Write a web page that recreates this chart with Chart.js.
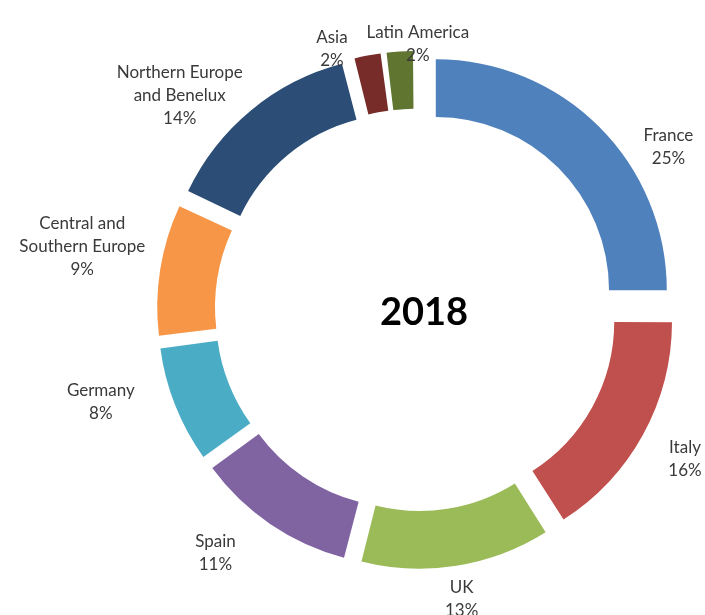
<!DOCTYPE html>
<html>
<head>
<meta charset="utf-8">
<title>2018</title>
<script src="https://cdn.jsdelivr.net/npm/chart.js@4/dist/chart.umd.min.js"></script>
<style>
    body { margin: 0; background: #fff; }
    #wrap { width: 705px; height: 615px; position: relative; }
</style>
</head>
<body>
<div id="wrap"><canvas id="myChart"></canvas></div>
<script>
// Data
const regions = ['France', 'Italy', 'UK', 'Spain', 'Germany', 'Central and Southern Europe', 'Northern Europe and Benelux', 'Asia', 'Latin America'];
const shares = [25, 16, 13, 11, 8, 9, 14, 2, 2];
const labelLines = [['France'], ['Italy'], ['UK'], ['Spain'], ['Germany'], ['Central and', 'Southern Europe'], ['Northern Europe', 'and Benelux'], ['Asia'], ['Latin America']];
const yearLabel = '2018';

// Styling
const colors = ['#4F81BD', '#C0504D', '#9BBB59', '#8064A2', '#4BACC6', '#F79646', '#2C4D75', '#772C2A', '#5F7530'];
const labelDist = [301, 307, 292, 314, 328, 340, 320, 275, 267];   // px from centre
const labelTurn = [12, 0, 0, 5.5, 5.5, 2, -8, -7, 4];              // degrees
const explode = 28;
const total = shares.reduce((a, b) => a + b, 0);

// Chart.js moves an arc by offset/4 * (1 + fix), so undo that to get an even explode
function arcOffset(ctx) {
    const circ = shares[ctx.dataIndex] / total * Math.PI * 2;
    const fix = 1 - Math.sin(Math.min(Math.PI, circ));
    return 4 * explode / (1 + fix);
}

// Outside labels + the year in the hole
const labelPlugin = {
    id: 'sliceLabels',
    afterDatasetsDraw(chart) {
        const ctx = chart.ctx;
        const arcs = chart.getDatasetMeta(0).data;
        ctx.save();
        ctx.fillStyle = '#3a3a3a';
        ctx.font = '17px Lato';
        ctx.textAlign = 'center';
        ctx.textBaseline = 'middle';
        arcs.forEach((arc, i) => {
            const mid = (arc.startAngle + arc.endAngle) / 2 + labelTurn[i] * Math.PI / 180;
            const cx = arc.x + Math.cos(mid) * labelDist[i];
            const cy = arc.y + Math.sin(mid) * labelDist[i] + 1;
            const lines = labelLines[i].concat([shares[i] + '%']);
            const lh = 23;
            const top = cy - (lines.length - 1) * lh / 2;
            lines.forEach((t, k) => ctx.fillText(t, cx, top + k * lh));
        });
        const a0 = arcs[0];
        ctx.fillStyle = '#000';
        ctx.font = 'bold 38px Lato';
        ctx.fillText(yearLabel, a0.x + 8, a0.y + 3);
        ctx.restore();
    }
};

const ctx = document.getElementById('myChart').getContext('2d');
new Chart(ctx, {
    type: 'doughnut',
    data: {
        labels: regions,
        datasets: [{
            data: shares,
            backgroundColor: colors,
            borderWidth: 0,
            offset: arcOffset,
            hoverOffset: 0
        }]
    },
    options: {
        responsive: true,
        maintainAspectRatio: false,
        animation: false,
        radius: 231,
        cutout: '75%',
        layout: { padding: { left: 127, right: 0, top: 5, bottom: 0 } },
        plugins: {
            legend: { display: false },
            tooltip: { enabled: false }
        }
    },
    plugins: [labelPlugin]
});
</script>
</body>
</html>
